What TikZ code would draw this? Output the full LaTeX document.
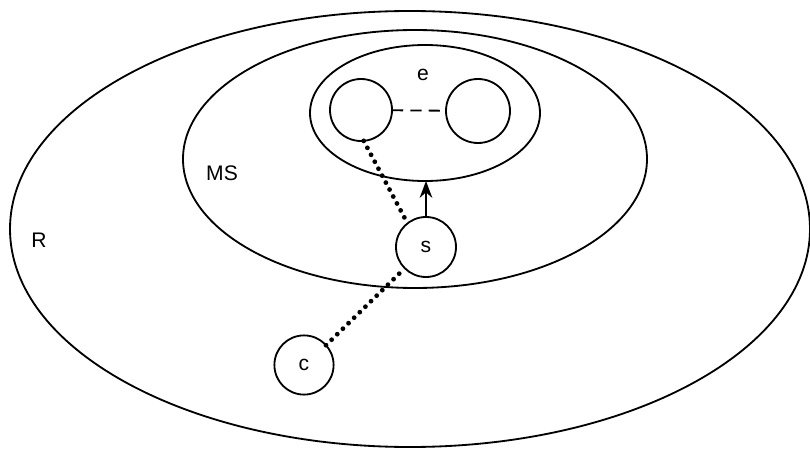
\documentclass[tikz,border=0pt]{standalone}
\usepackage{fontspec}
\setmainfont{Liberation Sans}
\usetikzlibrary{shapes.geometric,arrows.meta}

\begin{document}
\begin{tikzpicture}[line width=1.3pt,
		region/.style={draw, ellipse, inner sep=0pt, outer sep=0pt},
		ball/.style={draw, circle, inner sep=0pt, outer sep=0pt, minimum size=#1},
		lbl/.style={font=\fontsize{15}{18}\selectfont},
		dots/.style={line width=3.4pt, line cap=round, dash pattern=on 0pt off 5.6pt}]
		      		\useasboundingbox (0,0) rectangle (20.25,11.275);

		      		\node[region, minimum width=20cm, minimum height=10.9cm] (R) at (10.25,5.55) {};
		      		\node[region, minimum width=11.6cm, minimum height=6.45cm] (MS) at (10.375,7.3) {};
		      		\node[region, minimum width=5.75cm, minimum height=3.4cm] (E) at (10.625,8.45) {};

		      		\node[ball=1.55cm] (a) at (9.025,8.525) {};
		      		\node[ball=1.6cm] (b) at (11.95,8.5) {};
		      		\node[ball=1.5cm, lbl] (s) at (10.65,5.1) {s};
		      		\node[ball=1.48cm, lbl] (c) at (7.6,2.15) {c};

		      		\node[lbl] (eLbl) at (10.575,9.4) {e};
		      		\node[lbl] (msLbl) at (5.55,6.95) {MS};
		      		\node[lbl] (rLbl) at (0.975,5.275) {R};

		      		\draw[dashed, dash pattern=on 8pt off 5pt] (a) -- (b);
		      		\draw[-{Stealth[length=12pt,width=9pt]}] (s.north) -- (s.north |- E.south);
		      		\draw[dots] (a.-85) -- (s.128);
		      		\draw[dots] (c.42) -- (s.225);
		      	\end{tikzpicture}
\end{document}
